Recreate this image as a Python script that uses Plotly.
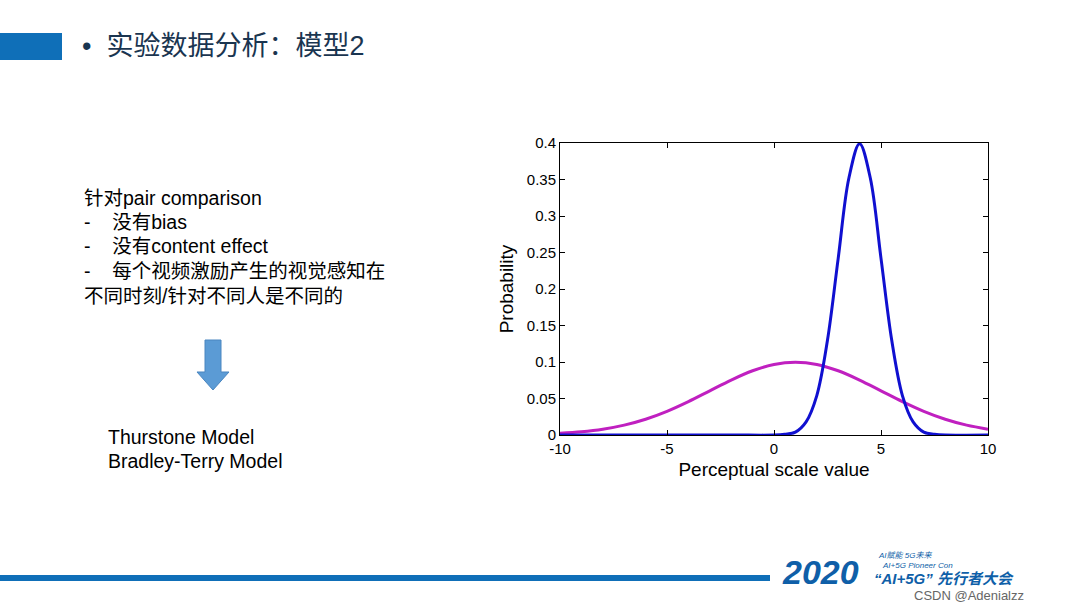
import plotly.graph_objects as go

# blue curve (narrow)
blue_x = [-10, -6, -2, 0, 0.5, 1, 1.5, 2, 2.5, 3, 3.5, 4, 4.5, 5, 5.5, 6, 6.5, 7, 7.5, 8, 10]
blue_y = [0, 0, 0, 0, 0.001, 0.004, 0.018, 0.054, 0.13, 0.242, 0.352, 0.399,
          0.352, 0.242, 0.13, 0.054, 0.018, 0.004, 0.001, 0, 0]

# magenta curve (wide)
mag_x = [-10, -9, -8, -7, -6, -5, -4, -3, -2, -1, 0, 1, 2, 3, 4, 5, 6, 7, 8, 9, 10]
mag_y = [0.0023, 0.0044, 0.0079, 0.0135, 0.0216, 0.0324, 0.0457, 0.0605, 0.0753,
         0.0880, 0.0967, 0.0997, 0.0967, 0.0880, 0.0753, 0.0605, 0.0457, 0.0324,
         0.0216, 0.0135, 0.0079]

x_ticks = [-10, -5, 0, 5, 10]
x_labels = ["-10", "-5", "0", "5", "10"]
y_ticks = [0, 0.05, 0.1, 0.15, 0.2, 0.25, 0.3, 0.35, 0.4]
y_labels = ["0", "0.05", "0.1", "0.15", "0.2", "0.25", "0.3", "0.35", "0.4"]

fig = go.Figure()
fig.add_trace(go.Scatter(x=mag_x, y=mag_y, mode="lines", line=dict(color="#c020c0", width=3, shape="spline")))
fig.add_trace(go.Scatter(x=blue_x, y=blue_y, mode="lines", line=dict(color="#1010d0", width=3, shape="spline")))

ax = dict(showgrid=False, zeroline=False, showline=True, mirror="ticks", linecolor="black",
          linewidth=1, ticks="inside", ticklen=5, tickcolor="black", automargin=False,
          tickfont=dict(family="Liberation Sans, Arial", size=15, color="black"))
fig.update_xaxes(ax, range=[-10, 10], tickvals=x_ticks, ticktext=x_labels, domain=[560/1080, 988/1080],
                 title=dict(text="Perceptual scale value", standoff=6,
                            font=dict(family="Liberation Sans, Arial", size=19, color="black")))
fig.update_yaxes(ax, range=[0, 0.4], tickvals=y_ticks, ticktext=y_labels,
                 domain=[1-435/608, 1-143/608],
                 title=dict(text="Probability", standoff=8,
                            font=dict(family="Liberation Sans, Arial", size=19, color="black")))

font = dict(family="Liberation Sans, Noto Sans CJK SC", size=19.5, color="black")
def txt(x, y, s, **kw):
    f = dict(font); f.update(kw.pop("font", {}))
    fig.add_annotation(x=x/1080, y=1-y/608, xref="paper", yref="paper", text=s, showarrow=False,
                       xanchor="left", yanchor="middle", font=f, **kw)

# slide decorations
fig.add_shape(type="rect", xref="paper", yref="paper", x0=0, x1=62/1080, y0=1-60/608, y1=1-33/608,
              fillcolor="#0f6fb8", line_width=0)
txt(80, 46, "•  实验数据分析：模型2", font=dict(size=27, color="#1a3550"))
txt(82, 198, "针对pair comparison")
txt(82, 222, "-    没有bias")
txt(82, 246, "-    没有content effect")
txt(82, 271, "-    每个视频激励产生的视觉感知在")
txt(82, 296, "不同时刻/针对不同人是不同的")
txt(106, 437, "Thurstone Model")
txt(106, 461, "Bradley-Terry Model")
fig.add_shape(type="path", xref="paper", yref="paper",
              path="M %f %f L %f %f L %f %f L %f %f L %f %f L %f %f L %f %f Z" % (
                  205/1080, 1-340/608, 221/1080, 1-340/608, 221/1080, 1-372/608,
                  229/1080, 1-372/608, 213/1080, 1-390/608, 197/1080, 1-372/608,
                  205/1080, 1-372/608),
              fillcolor="#5b9bd5", line=dict(color="#4a86c0", width=1))
fig.add_shape(type="rect", xref="paper", yref="paper", x0=0, x1=770/1080, y0=1-581/608, y1=1-575/608,
              fillcolor="#0f6fb8", line_width=0)
txt(780, 572, "<b><i>2020</i></b>", font=dict(size=34, color="#0f5fa8"))
txt(876, 555, "<i>AI赋能 5G未来</i>", font=dict(size=8, color="#0f5fa8"))
txt(880, 565, "<i>AI+5G Pioneer Con</i>", font=dict(size=8, color="#0f5fa8"))
txt(872, 578, "<b><i>“AI+5G” 先行者大会</i></b>", font=dict(size=15, color="#0f5fa8"))
txt(912, 595, "CSDN @Adenialzz", font=dict(size=13, color="#666666"))

fig.update_layout(width=1080, height=608, margin=dict(l=0, r=0, t=0, b=0),
                  paper_bgcolor="white", plot_bgcolor="white", showlegend=False)
fig.write_html("out.html", config={"displayModeBar": False},
               post_script="document.body.style.margin='0';")
